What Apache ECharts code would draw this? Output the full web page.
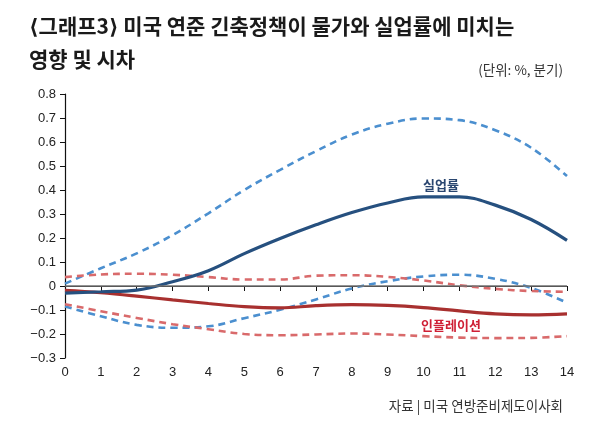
<!DOCTYPE html>
<html><head><meta charset="utf-8">
<script src="https://cdn.jsdelivr.net/npm/echarts@6/dist/echarts.min.js"></script>
<style>html,body{margin:0;padding:0;background:#fff}#c{width:600px;height:421px}</style>
</head><body><div id="c"></div>
<script>
const quarters = [0,1,2,3,4,5,6,7,8,9,10,11,12,13,14];
const unempMid   = [-0.03,-0.024,-0.017,0.018,0.064,0.135,0.198,0.255,0.306,0.346,0.371,0.371,0.337,0.277,0.19];
const unempUpper = [0.01,0.074,0.136,0.212,0.303,0.4,0.484,0.562,0.631,0.676,0.698,0.691,0.649,0.576,0.458];
const unempLower = [-0.085,-0.126,-0.162,-0.174,-0.168,-0.134,-0.099,-0.056,-0.01,0.02,0.04,0.047,0.03,-0.008,-0.07];
const inflMid    = [-0.018,-0.028,-0.042,-0.058,-0.073,-0.086,-0.091,-0.082,-0.078,-0.081,-0.09,-0.104,-0.116,-0.12,-0.116];
const inflUpper  = [0.037,0.048,0.051,0.047,0.037,0.027,0.027,0.043,0.045,0.038,0.023,0.003,-0.012,-0.021,-0.024];
const inflLower  = [-0.076,-0.105,-0.133,-0.159,-0.18,-0.2,-0.205,-0.202,-0.198,-0.202,-0.209,-0.215,-0.217,-0.216,-0.209];
const title1 = '⟨그래프3⟩ 미국 연준 긴축정책이 물가와 실업률에 미치는';
const title2 = '영향 및 시차';
const unitText = '(단위: %, 분기)';
const sourceText = '자료 | 미국 연방준비제도이사회';
const unempLabel = '실업률';
const inflLabel = '인플레이션';

const pts = a => a.map((v,i)=>[quarters[i], v]);
const KR = "'Noto Sans CJK KR', 'DejaVu Sans', sans-serif";
const NUM = "'Liberation Sans Narrow','Liberation Sans', Arial, sans-serif";

const chart = echarts.init(document.getElementById('c'), null, {renderer:'canvas'});
function dashed(name, data, color){
  return {name, type:'line', data:pts(data), smooth:0.4, symbol:'none', z:2,
    lineStyle:{color, width:2.6, type:[7,5]}};
}
chart.setOption({
  animation:false,
  backgroundColor:'#fff',
  title:[
    {text:title1, left:24, top:11, textStyle:{fontFamily:KR, fontSize:21, fontWeight:'bold', color:'#1a1a1a'}},
    {text:title2, left:24, top:44, textStyle:{fontFamily:KR, fontSize:21, fontWeight:'bold', color:'#1a1a1a'}},
    {text:unitText, right:32, top:58, textStyle:{fontFamily:KR, fontSize:13.5, fontWeight:'normal', color:'#333'}},
    {text:sourceText, right:32, top:394, textStyle:{fontFamily:KR, fontSize:13.5, fontWeight:'normal', color:'#333'}}
  ],
  grid:{left:65, right:33, top:94, bottom:63, containLabel:false},
  xAxis:{type:'value', min:0, max:14, interval:1,
    axisLine:{show:true, lineStyle:{color:'#111', width:1.2}},
    axisTick:{show:true, length:5, lineStyle:{color:'#111'}},
    axisLabel:{color:'#222', fontFamily:NUM, fontSize:13, margin:8},
    splitLine:{show:false}},
  yAxis:{type:'value', min:-0.3, max:0.8, interval:0.1,
    axisLine:{show:true, onZero:false, lineStyle:{color:'#111', width:1.2}},
    axisTick:{show:true, length:5, lineStyle:{color:'#111'}},
    axisLabel:{color:'#222', fontFamily:NUM, fontSize:13, margin:9,
      formatter:v=>{const r=Math.round(v*10)/10; if(r===0) return '0'; return (r<0?'−':'')+Math.abs(r).toFixed(1);}},
    splitLine:{show:false}},
  series:[
    {name:'zero', type:'line', data:[], symbol:'none',
      markLine:{silent:true, symbol:'none', label:{show:false},
        lineStyle:{color:'#707070', width:1.6, type:'solid'}, data:[{yAxis:0}]}},
    dashed('ul', unempUpper, '#4b8fcf'),
    dashed('ull', unempLower, '#4b8fcf'),
    dashed('iu', inflUpper, '#d96a6b'),
    dashed('il', inflLower, '#d96a6b'),
    {name:'inf', type:'line', data:pts(inflMid), smooth:0.4, symbol:'none', z:3,
      lineStyle:{color:'#a8302f', width:3.2}},
    {name:'une', type:'line', data:pts(unempMid), smooth:0.4, symbol:'none', z:3,
      lineStyle:{color:'#26507f', width:3.2}}
  ],
  graphic:[
    {type:'text', x:441, y:185, style:{text:unempLabel, font:"bold 13px 'Noto Sans CJK KR'", fill:'#2a4670', align:'center', verticalAlign:'middle'}},
    {type:'text', x:451, y:325, style:{text:inflLabel, font:"bold 13px 'Noto Sans CJK KR'", fill:'#cf1f35', align:'center', verticalAlign:'middle'}}
  ]
});
</script></body></html>
